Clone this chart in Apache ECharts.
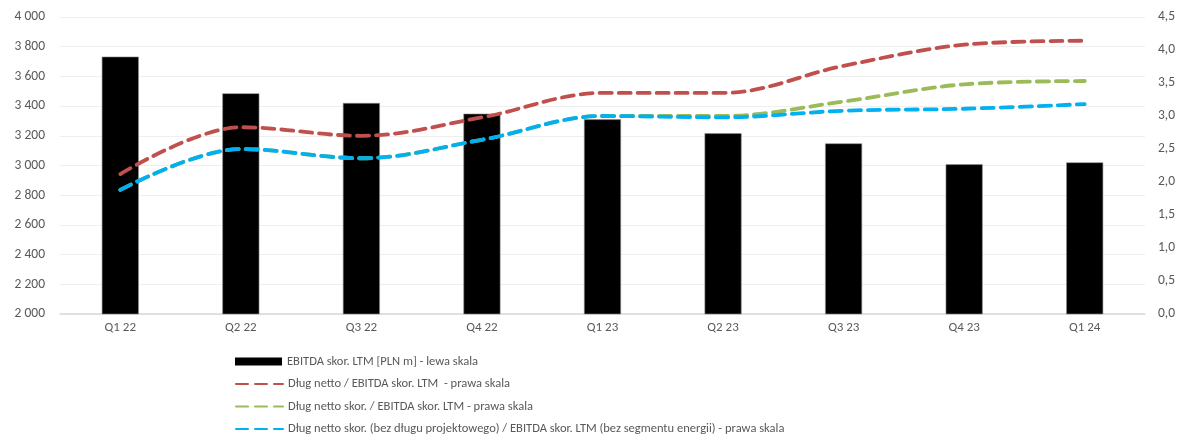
<!DOCTYPE html>
<html>
<head>
<meta charset="utf-8">
<script src="https://cdn.jsdelivr.net/npm/echarts@6/dist/echarts.min.js"></script>
<style>
html,body{margin:0;padding:0;background:#fff;}
#c{width:1189px;height:437px;}
</style>
</head>
<body>
<div id="c"></div>
<script>
const categories = ['Q1 22','Q2 22','Q3 22','Q4 22','Q1 23','Q2 23','Q3 23','Q4 23','Q1 24'];
const ebitda = [3733, 3486, 3421, 3349, 3311, 3217, 3149, 3008, 3021];
const debtRatio = [2.12, 2.83, 2.70, 2.98, 3.35, 3.35, 3.76, 4.08, 4.14];
const debtAdjRatio = [1.88, 2.50, 2.36, 2.64, 3.00, 3.00, 3.22, 3.48, 3.53];
const debtExclRatio = [1.88, 2.50, 2.36, 2.64, 3.00, 2.98, 3.08, 3.11, 3.18];
const names = [
  'EBITDA skor. LTM [PLN m] - lewa skala',
  'Dług netto / EBITDA skor. LTM  - prawa skala',
  'Dług netto skor. / EBITDA skor. LTM - prawa skala',
  'Dług netto skor. (bez długu projektowego) / EBITDA skor. LTM (bez segmentu energii) - prawa skala'
];

const FONT = 'Carlito, Lato, "Liberation Sans", sans-serif';
const chart = echarts.init(document.getElementById('c'), null, {renderer:'canvas'});
const dash = [12, 7];
const lineSeries = (name, data, color) => ({
  name, type:'line', yAxisIndex:1, data, smooth:0.35, symbol:'none',
  lineStyle:{color, width:3.8, type:dash, cap:'round'},
  itemStyle:{color}
});
const legendTops = [355, 377.5, 400, 422.5];
const legends = names.map((n, i) => ({
  orient:'horizontal', left:235, top:legendTops[i], padding:0,
  itemWidth:47, itemHeight:i === 0 ? 8 : 10, itemGap:5,
  textStyle:{color:'#595959', fontSize:12.5, fontFamily:FONT},
  data:[ i === 0
    ? {name:n, icon:'rect', itemStyle:{borderWidth:0}}
    : {name:n, itemStyle:{color:'rgba(0,0,0,0)', borderColor:'rgba(0,0,0,0)', borderWidth:0}} ]
}));
chart.setOption({
  animation:false,
  textStyle:{fontFamily:FONT},
  grid:{left:60, right:44, top:17, bottom:123},
  xAxis:{
    type:'category', data:categories,
    axisLine:{lineStyle:{color:'#d9d9d9', width:1.5}},
    axisTick:{show:false},
    axisLabel:{color:'#595959', fontSize:13, margin:7, fontFamily:FONT}
  },
  yAxis:[{
    type:'value', min:2000, max:4000, interval:200,
    axisLine:{show:false}, axisTick:{show:false},
    splitLine:{lineStyle:{color:'#efefef'}},
    axisLabel:{color:'#595959', fontSize:13.5, margin:15, fontFamily:FONT,
      formatter:v=>String(v).replace(/\B(?=(\d{3})+(?!\d))/g,' ')}
  },{
    type:'value', min:0, max:4.5, interval:0.5,
    axisLine:{show:false}, axisTick:{show:false}, splitLine:{show:false},
    axisLabel:{color:'#595959', fontSize:13.5, margin:13, fontFamily:FONT,
      formatter:v=>v.toFixed(1).replace('.',',')}
  }],
  legend:legends,
  series:[
    {name:names[0], type:'bar', data:ebitda, barWidth:37,
     itemStyle:{color:'#000', borderColor:'#8c8c8c', borderWidth:0.6}},
    lineSeries(names[1], debtRatio, '#C0504D'),
    lineSeries(names[2], debtAdjRatio, '#9BBB59'),
    lineSeries(names[3], debtExclRatio, '#00B0F0')
  ]
});
</script>
</body>
</html>
